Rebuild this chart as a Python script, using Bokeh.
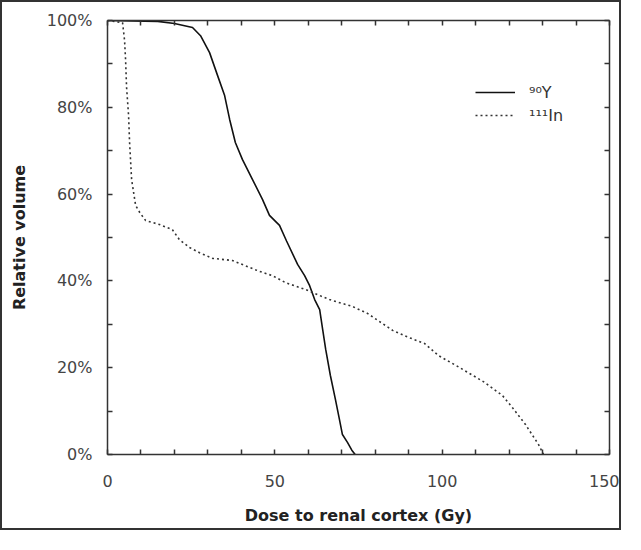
from bokeh.plotting import figure
from bokeh.models import (Range1d, FixedTicker, LinearAxis, PrintfTickFormatter,
                          Legend, LegendItem, CustomJSTickFormatter)
from bokeh.embed import file_html
from bokeh.resources import INLINE

# --- data ---
y90_dose = [0, 15, 20, 25.4, 27.8, 30.5, 32.9, 35, 36.5, 38.2, 40.3, 43.3, 46.3,
            48.4, 51.4, 53.5, 56.8, 58.9, 60.4, 61.9, 63.4, 64.3, 65.2, 66.6,
            68.1, 69.3, 70.2, 71.7, 73, 74]
y90_vol = [100, 99.8, 99.3, 98.4, 96.5, 92.6, 87.3, 82.7, 77.2, 71.9, 68.0, 63.4,
           58.8, 55.1, 52.8, 49.2, 43.8, 41.2, 38.9, 35.7, 33.4, 28.8, 24.2, 18.2,
           12.7, 8.1, 4.6, 2.8, 1.0, 0]

in111_dose = [0, 4.5, 5.1, 5.4, 5.7, 6.3, 6.6, 7.2, 7.8, 8.4, 9.6, 11.4, 15.5,
              19.4, 21.5, 24.5, 27.5, 31.4, 37.3, 41.2, 45.4, 49.3, 53.2, 59.2,
              66.3, 73.2, 77.7, 85.2, 89.9, 94.7, 98.9, 104.6, 112.3, 118.0,
              121.0, 124.9, 128.8, 130.3]
in111_vol = [100, 99.5, 95.4, 91.0, 84.6, 78.1, 71.9, 63.4, 60.4, 57.4, 55.8,
             53.9, 53.0, 51.8, 49.5, 47.7, 46.5, 45.2, 44.7, 43.5, 42.2, 41.2,
             39.6, 38.0, 35.7, 34.1, 32.5, 28.6, 27.0, 25.6, 22.8, 20.3, 16.8,
             13.6, 10.8, 6.9, 2.3, 0]

x_major = [0, 50, 100, 150]
x_minor = [10, 20, 30, 40, 60, 70, 80, 90, 110, 120, 130, 140]
y_major = [0, 20, 40, 60, 80, 100]
y_minor = [10, 30, 50, 70, 90]

series_labels = ["\u2079\u2070Y", "\u00b9\u00b9\u00b9In"]
x_title = "Dose to renal cortex (Gy)"
y_title = "Relative volume"

FONT = "DejaVu Sans"
AX = "#333333"

p = figure(width=621, height=530, output_backend="svg", toolbar_location=None,
           x_range=Range1d(0, 150), y_range=Range1d(0, 100),
           min_border_left=105, min_border_top=18, min_border_right=14,
           min_border_bottom=78, x_axis_location=None, y_axis_location=None)
p.styles = {"border": "2px solid #333333"}
p.outline_line_color = None
p.xgrid.visible = False
p.ygrid.visible = False

def style_axis(ax, ticks, minor, show_labels):
    ax.ticker = FixedTicker(ticks=ticks, minor_ticks=minor)
    ax.axis_line_color = AX
    ax.axis_line_width = 1.5
    ax.major_tick_in = 5
    ax.major_tick_out = 0
    ax.minor_tick_in = 5
    ax.minor_tick_out = 0
    ax.major_tick_line_color = AX
    ax.minor_tick_line_color = AX
    ax.major_tick_line_width = 1.5
    ax.minor_tick_line_width = 1.5
    ax.major_label_text_font = FONT
    ax.major_label_text_font_size = "16px"
    ax.major_label_text_color = "#444444"
    ax.axis_label_text_font = FONT
    ax.axis_label_text_font_style = "bold"
    ax.axis_label_text_font_size = "16px"
    ax.axis_label_text_color = "#222222"
    if not show_labels:
        ax.formatter = CustomJSTickFormatter(code="return ''")
        ax.major_label_standoff = 0

xb = LinearAxis(axis_label=x_title)
style_axis(xb, x_major, x_minor, True)
xb.major_label_standoff = 20
xb.axis_label_standoff = 16
p.add_layout(xb, "below")

yl = LinearAxis(axis_label=y_title,
                formatter=PrintfTickFormatter(format="%d%%"))
style_axis(yl, y_major, y_minor, True)
yl.major_label_standoff = 15
yl.axis_label_standoff = 15
p.add_layout(yl, "left")

xt = LinearAxis()
style_axis(xt, x_major, x_minor, False)
p.add_layout(xt, "above")

yr = LinearAxis()
style_axis(yr, y_major, y_minor, False)
p.add_layout(yr, "right")

r1 = p.line(y90_dose, y90_vol, line_color="#111111", line_width=1.6)
r2 = p.line(in111_dose, in111_vol, line_color="#333333", line_width=1.6,
            line_dash="2 3")

legend = Legend(items=[LegendItem(label=series_labels[0], renderers=[r1]),
                       LegendItem(label=series_labels[1], renderers=[r2])],
                location=(368, 329), padding=0, margin=0, spacing=3,
                glyph_width=40, glyph_height=20, label_standoff=14,
                border_line_color=None, background_fill_alpha=0,
                label_text_font=FONT, label_text_font_size="16px",
                label_text_color="#333333")
p.add_layout(legend, "center")

open("out.html", "w").write(file_html(p, INLINE))
